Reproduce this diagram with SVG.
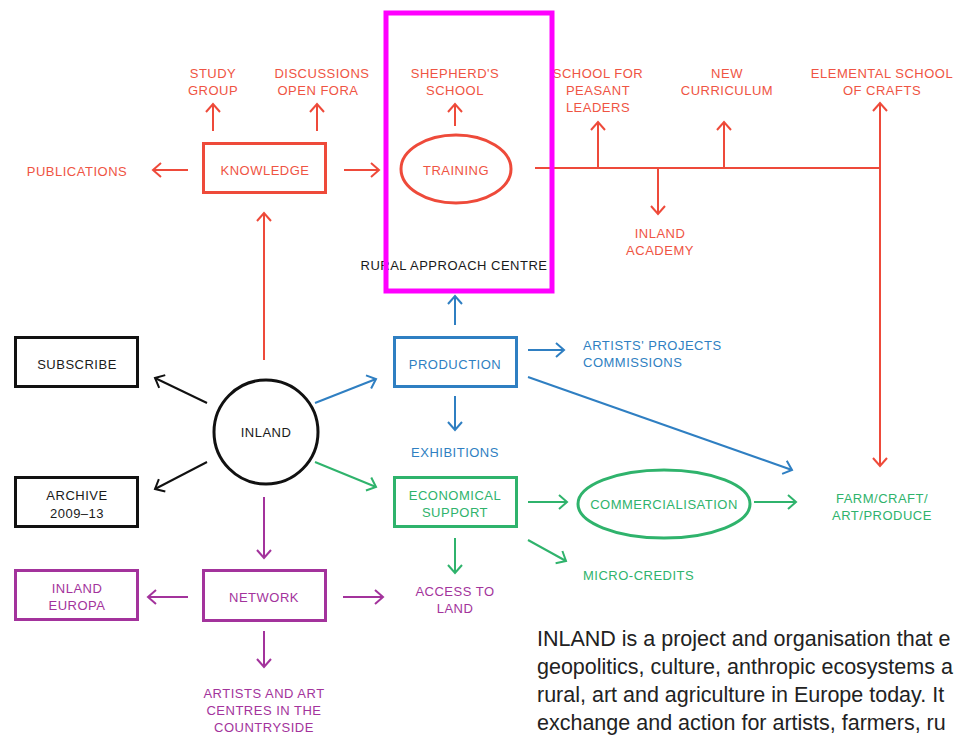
<svg xmlns="http://www.w3.org/2000/svg" width="956" height="736" viewBox="0 0 956 736">
<style>
  text { font-family: "Liberation Sans", Arial, sans-serif; font-size: 13px; letter-spacing: 0.5px; text-anchor: middle; }
  .r { fill: #ef5443; } .b { fill: #2f7fc2; } .g { fill: #2fb36c; } .p { fill: #a3339c; } .k { fill: #1a1a1a; }
  .box { fill: none; stroke-width: 3; }
  .lr { stroke: #ee4a3a; fill: none; stroke-width: 2; }
  .lb { stroke: #2f7fc2; fill: none; stroke-width: 2; }
  .lg { stroke: #2fb36c; fill: none; stroke-width: 2; }
  .lp { stroke: #a3339c; fill: none; stroke-width: 2; }
  .lk { stroke: #111; fill: none; stroke-width: 2; }
  .para { font-size: 21.5px; letter-spacing: 0; text-anchor: start; fill: #222; }
</style>
<defs>
  <marker id="ar" markerUnits="userSpaceOnUse" markerWidth="14" markerHeight="18" refX="10" refY="9" orient="auto"><path d="M2,2 L10,9 L2,16" fill="none" stroke="#ee4a3a" stroke-width="2"/></marker>
  <marker id="ab" markerUnits="userSpaceOnUse" markerWidth="14" markerHeight="18" refX="10" refY="9" orient="auto"><path d="M2,2 L10,9 L2,16" fill="none" stroke="#2f7fc2" stroke-width="2"/></marker>
  <marker id="ag" markerUnits="userSpaceOnUse" markerWidth="14" markerHeight="18" refX="10" refY="9" orient="auto"><path d="M2,2 L10,9 L2,16" fill="none" stroke="#2fb36c" stroke-width="2"/></marker>
  <marker id="ap" markerUnits="userSpaceOnUse" markerWidth="14" markerHeight="18" refX="10" refY="9" orient="auto"><path d="M2,2 L10,9 L2,16" fill="none" stroke="#a3339c" stroke-width="2"/></marker>
  <marker id="ak" markerUnits="userSpaceOnUse" markerWidth="14" markerHeight="18" refX="10" refY="9" orient="auto"><path d="M2,2 L10,9 L2,16" fill="none" stroke="#111" stroke-width="2"/></marker>
</defs>
<rect width="956" height="736" fill="#fff"/>

<g id="connectors">
  <line class="lr" x1="213" y1="131" x2="213" y2="104" marker-end="url(#ar)"/>
  <line class="lr" x1="317" y1="131" x2="317" y2="104" marker-end="url(#ar)"/>
  <line class="lr" x1="188" y1="170" x2="153" y2="170" marker-end="url(#ar)"/>
  <line class="lr" x1="344" y1="170" x2="379" y2="170" marker-end="url(#ar)"/>
  <line class="lr" x1="455" y1="126" x2="455" y2="104" marker-end="url(#ar)"/>
  <line class="lr" x1="535" y1="168" x2="880" y2="168"/>
  <line class="lr" x1="598" y1="168" x2="598" y2="122" marker-end="url(#ar)"/>
  <line class="lr" x1="658" y1="168" x2="658" y2="214" marker-end="url(#ar)"/>
  <line class="lr" x1="724" y1="168" x2="724" y2="122" marker-end="url(#ar)"/>
  <line class="lr" x1="880" y1="168" x2="880" y2="103" marker-end="url(#ar)"/>
  <line class="lr" x1="880" y1="168" x2="880" y2="466" marker-end="url(#ar)"/>
  <line class="lr" x1="264" y1="360" x2="264" y2="213" marker-end="url(#ar)"/>
  <line class="lk" x1="207" y1="403" x2="155" y2="378" marker-end="url(#ak)"/>
  <line class="lk" x1="207" y1="462" x2="155" y2="489" marker-end="url(#ak)"/>
  <line class="lb" x1="315" y1="403" x2="376" y2="379" marker-end="url(#ab)"/>
  <line class="lg" x1="315" y1="462" x2="376" y2="487" marker-end="url(#ag)"/>
  <line class="lp" x1="264" y1="497" x2="264" y2="558" marker-end="url(#ap)"/>
  <line class="lb" x1="455" y1="325" x2="455" y2="296" marker-end="url(#ab)"/>
  <line class="lb" x1="528" y1="350" x2="564" y2="350" marker-end="url(#ab)"/>
  <line class="lb" x1="528" y1="377" x2="792" y2="470" marker-end="url(#ab)"/>
  <line class="lb" x1="455" y1="396" x2="455" y2="430" marker-end="url(#ab)"/>
  <line class="lg" x1="528" y1="502" x2="567" y2="502" marker-end="url(#ag)"/>
  <line class="lg" x1="754" y1="502" x2="796" y2="502" marker-end="url(#ag)"/>
  <line class="lg" x1="528" y1="540" x2="566" y2="561" marker-end="url(#ag)"/>
  <line class="lg" x1="455" y1="538" x2="455" y2="573" marker-end="url(#ag)"/>
  <line class="lp" x1="188" y1="597" x2="148" y2="597" marker-end="url(#ap)"/>
  <line class="lp" x1="343" y1="597" x2="383" y2="597" marker-end="url(#ap)"/>
  <line class="lp" x1="264" y1="631" x2="264" y2="667" marker-end="url(#ap)"/>
</g>

<g id="study-group"><text class="r" x="213" y="78">STUDY</text><text class="r" x="213" y="95">GROUP</text></g>
<g id="discussions"><text class="r" x="322" y="78">DISCUSSIONS</text><text class="r" x="318" y="95">OPEN FORA</text></g>
<g id="publications"><text class="r" x="77" y="176">PUBLICATIONS</text></g>
<g id="knowledge"><rect class="box" x="203.5" y="143.5" width="122" height="49" stroke="#ee4a3a"/><text class="r" x="265" y="175">KNOWLEDGE</text></g>
<g id="shepherds-school"><text class="r" x="455" y="78">SHEPHERD'S</text><text class="r" x="455" y="95">SCHOOL</text></g>
<g id="training"><ellipse cx="456" cy="169" rx="55" ry="34" fill="none" stroke="#ee4a3a" stroke-width="3"/><text class="r" x="456" y="175">TRAINING</text></g>
<g id="school-peasant"><text class="r" x="598" y="78">SCHOOL FOR</text><text class="r" x="598" y="95">PEASANT</text><text class="r" x="598" y="112">LEADERS</text></g>
<g id="new-curriculum"><text class="r" x="727" y="78">NEW</text><text class="r" x="727" y="95">CURRICULUM</text></g>
<g id="elemental-school"><text class="r" x="882" y="78">ELEMENTAL SCHOOL</text><text class="r" x="882" y="95">OF CRAFTS</text></g>
<g id="inland-academy"><text class="r" x="660" y="238">INLAND</text><text class="r" x="660" y="255">ACADEMY</text></g>
<g id="rural-approach-centre"><text class="k" x="454" y="270">RURAL APPROACH CENTRE</text>
  <rect x="386" y="13" width="166" height="278" fill="none" stroke="#ff00ff" stroke-width="5"/></g>

<g id="subscribe"><rect class="box" x="15.5" y="337.5" width="122" height="49" stroke="#111"/><text class="k" x="77" y="369">SUBSCRIBE</text></g>
<g id="archive"><rect class="box" x="15.5" y="477.5" width="122" height="49" stroke="#111"/><text class="k" x="77" y="500">ARCHIVE</text><text class="k" x="77" y="518">2009–13</text></g>
<g id="inland"><circle cx="266" cy="432" r="52" fill="none" stroke="#111" stroke-width="3"/><text class="k" x="266" y="437">INLAND</text></g>

<g id="production"><rect class="box" x="394.5" y="337.5" width="122" height="49" stroke="#2f7fc2"/><text class="b" x="455" y="369">PRODUCTION</text></g>
<g id="artists-projects"><text class="b" x="583" y="350" style="text-anchor:start">ARTISTS' PROJECTS</text><text class="b" x="583" y="367" style="text-anchor:start">COMMISSIONS</text></g>
<g id="exhibitions"><text class="b" x="455" y="457">EXHIBITIONS</text></g>

<g id="economical-support"><rect class="box" x="394.5" y="477.5" width="122" height="49" stroke="#2fb36c"/><text class="g" x="455" y="500">ECONOMICAL</text><text class="g" x="455" y="517">SUPPORT</text></g>
<g id="commercialisation"><ellipse cx="664" cy="504" rx="86" ry="34" fill="none" stroke="#2fb36c" stroke-width="3"/><text class="g" x="664" y="509">COMMERCIALISATION</text></g>
<g id="farm-craft"><text class="g" x="882" y="503">FARM/CRAFT/</text><text class="g" x="882" y="520">ART/PRODUCE</text></g>
<g id="micro-credits"><text class="g" x="583" y="580" style="text-anchor:start">MICRO-CREDITS</text></g>
<g id="access-to-land"><text class="p" x="455" y="596">ACCESS TO</text><text class="p" x="455" y="613">LAND</text></g>

<g id="network"><rect class="box" x="203.5" y="570.5" width="122" height="50" stroke="#a3339c"/><text class="p" x="264" y="602">NETWORK</text></g>
<g id="inland-europa"><rect class="box" x="15.5" y="570.5" width="122" height="49" stroke="#a3339c"/><text class="p" x="77" y="593">INLAND</text><text class="p" x="77" y="610">EUROPA</text></g>
<g id="artists-art-centres"><text class="p" x="264" y="698">ARTISTS AND ART</text><text class="p" x="264" y="715">CENTRES IN THE</text><text class="p" x="264" y="732">COUNTRYSIDE</text></g>

<g id="description">
  <text class="para" x="537" y="646">INLAND is a project and organisation that e</text>
  <text class="para" x="537" y="674">geopolitics, culture, anthropic ecosystems a</text>
  <text class="para" x="537" y="702">rural, art and agriculture in Europe today. It</text>
  <text class="para" x="537" y="730">exchange and action for artists, farmers, ru</text>
</g>
</svg>
